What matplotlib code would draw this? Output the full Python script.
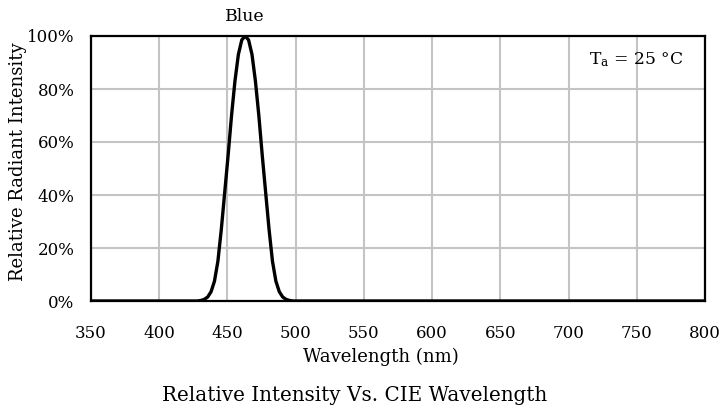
import matplotlib
matplotlib.use("Agg")
import matplotlib.pyplot as plt
from matplotlib.ticker import FuncFormatter

plt.rcParams['font.family'] = ['DejaVu Serif']
plt.rcParams['mathtext.fontset'] = 'dejavuserif'

# Spectrum (wavelength nm, relative intensity 0..1)
wavelength = [350, 425.5, 428, 430.5, 433, 435.5, 438, 440.5, 443, 445.5, 448,
              450.5, 453, 455.5, 458, 460.5, 463, 465.5, 468, 470.5, 473, 475.5,
              478, 480.5, 483, 485.5, 488, 490.5, 493, 495.5, 498, 500.5, 800]
intensity = [0.0, 0.0, 0.0, 0.002, 0.006, 0.015, 0.035, 0.075, 0.15, 0.27, 0.41,
             0.55, 0.70, 0.83, 0.93, 0.985, 1.0, 0.985, 0.93, 0.83, 0.70, 0.55,
             0.41, 0.27, 0.15, 0.075, 0.035, 0.015, 0.006, 0.002, 0.0, 0.0, 0.0]

x_ticks = [350, 400, 450, 500, 550, 600, 650, 700, 750, 800]
y_ticks = [0, 0.2, 0.4, 0.6, 0.8, 1.0]

fig = plt.figure(figsize=(7.2, 4.11), dpi=100)
ax = fig.add_axes([91/720, 1-301/411, (705-91)/720, (301-36)/411])

ax.plot(wavelength, intensity, color='black', lw=2.4, solid_joinstyle='round',
        solid_capstyle='round', zorder=3)

ax.set_xlim(350, 800)
ax.set_ylim(0, 1.0)
ax.set_xticks(x_ticks)
ax.set_yticks(y_ticks)
ax.yaxis.set_major_formatter(FuncFormatter(lambda v, p: f"{v*100:.0f}%"))
ax.grid(True, color='#c4c4c4', lw=1.5, zorder=0)
ax.tick_params(length=0, labelsize=12)
ax.tick_params(axis='x', pad=17)
ax.tick_params(axis='y', pad=12)
for s in ax.spines.values():
    s.set_linewidth(1.6)
    s.set_color('black')
    s.set_zorder(4)

ax.set_xlabel('Wavelength (nm)', fontsize=13)
ax.xaxis.set_label_coords((381-91)/614, (301-357)/265)
ax.xaxis.label.set_va('center')
ax.set_ylabel('Relative Radiant Intensity', fontsize=13)
ax.yaxis.set_label_coords((18-91)/614, (301-162)/265)
ax.yaxis.label.set_va('center')

ax.text(463, 1.072, 'Blue', ha='center', va='center', fontsize=12.5, clip_on=False)
ax.text((636-91)/614, (301-60)/265, r'T$_\mathrm{a}$ = 25 °C', ha='center', va='center',
        fontsize=12.3, transform=ax.transAxes)

fig.text(355/720, 1-395/411, 'Relative Intensity Vs. CIE Wavelength', ha='center',
         va='center', fontsize=14.3)

fig.savefig('out.png', dpi=100)
